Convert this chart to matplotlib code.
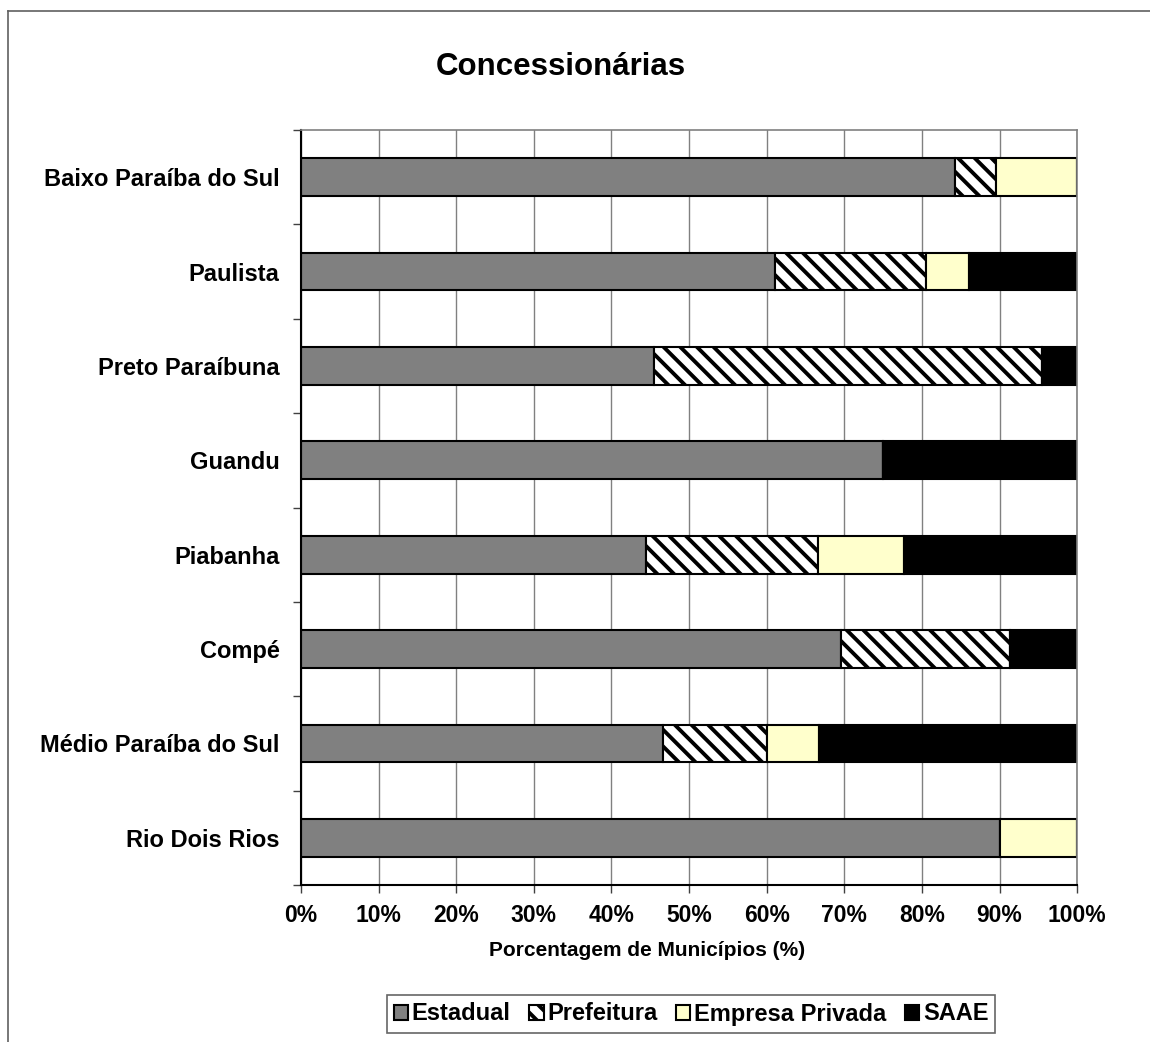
import numpy as np
import matplotlib
matplotlib.use('Agg')
import matplotlib.pyplot as plt
from matplotlib.lines import Line2D

plt.rcParams['font.family'] = ['Liberation Sans', 'DejaVu Sans']
plt.rcParams['hatch.linewidth'] = 2.8

# bacias (de cima para baixo) e porcentagem de municipios por concessionaria
bacias = ['Baixo Paraíba do Sul', 'Paulista', 'Preto Paraíbuna', 'Guandu',
          'Piabanha', 'Compé', 'Médio Paraíba do Sul', 'Rio Dois Rios']
estadual = [84.2, 61.1, 45.5, 75.0, 44.4, 69.6, 46.7, 90.0]
prefeitura = [5.3, 19.4, 50.0, 0.0, 22.2, 21.7, 13.3, 0.0]
privada = [10.5, 5.6, 0.0, 0.0, 11.1, 0.0, 6.7, 10.0]
saae = [0.0, 13.9, 4.5, 25.0, 22.2, 8.7, 33.3, 0.0]

fig = plt.figure(figsize=(11.5, 10.42), dpi=100)
ax = fig.add_axes([0.2617, 0.1507, 0.675, 0.7245])

y = np.arange(len(bacias))
h = 0.4
ec = dict(edgecolor='black', linewidth=1.5)

left = np.zeros(len(bacias))
b1 = ax.barh(y, estadual, h, left=left, color='#808080', label='Estadual', **ec)
left += estadual
b2 = ax.barh(y, prefeitura, h, left=left, color='white', hatch='\\\\', label='Prefeitura', **ec)
left += prefeitura
b3 = ax.barh(y, privada, h, left=left, color='#FFFFCC', label='Empresa Privada', **ec)
left += privada
b4 = ax.barh(y, saae, h, left=left, color='black', label='SAAE', **ec)

ax.set_xlim(0, 100)
ax.set_ylim(len(bacias) - 0.5, -0.5)
ax.set_xticks(np.arange(0, 101, 10))
ax.set_xticklabels([f'{v}%' for v in range(0, 101, 10)], fontsize=16.5, fontweight='bold')
ax.set_yticks(y)
ax.set_yticklabels(bacias, fontsize=17, fontweight='bold')
ax.set_yticks(np.arange(-0.5, len(bacias) + 0.5, 1), minor=True)
ax.tick_params(axis='y', which='major', length=0, pad=15.5)
ax.tick_params(axis='y', which='minor', length=6, width=1, color='#404040')
ax.tick_params(axis='x', length=6, width=1, color='#404040', pad=8)
ax.grid(axis='x', color='#808080', linewidth=1)
ax.set_axisbelow(True)
for s in ['top', 'right']:
    ax.spines[s].set_color('#808080')
    ax.spines[s].set_linewidth(1.2)
for s in ['left', 'bottom']:
    ax.spines[s].set_color('black')
    ax.spines[s].set_linewidth(1.5)

fig.text(0.4874, 1 - 67 / 1042, 'Concessionárias', ha='center', va='center',
         fontsize=22.5, fontweight='bold')
fig.text(0.563, 1 - 951 / 1042, 'Porcentagem de Municípios (%)', ha='center', va='center',
         fontsize=15, fontweight='bold')

leg = fig.legend(handles=[b1, b2, b3, b4], loc='center', bbox_to_anchor=(0.601, 1 - 1014 / 1042),
                 ncol=4, frameon=True, fancybox=False, prop={'weight': 'bold', 'size': 17},
                 handlelength=0.6, handleheight=0.6, handletextpad=0.15, columnspacing=0.8,
                 borderpad=0.3, borderaxespad=0)
leg.get_frame().set_edgecolor('#404040')
leg.get_frame().set_linewidth(1.2)

# moldura externa (so topo e esquerda aparecem)
fig.add_artist(Line2D([8 / 1150, 1], [1 - 11 / 1042, 1 - 11 / 1042], color='#606060', linewidth=1.2))
fig.add_artist(Line2D([8 / 1150, 8 / 1150], [0, 1 - 11 / 1042], color='#606060', linewidth=1.2))

fig.savefig('out.png', dpi=100)
